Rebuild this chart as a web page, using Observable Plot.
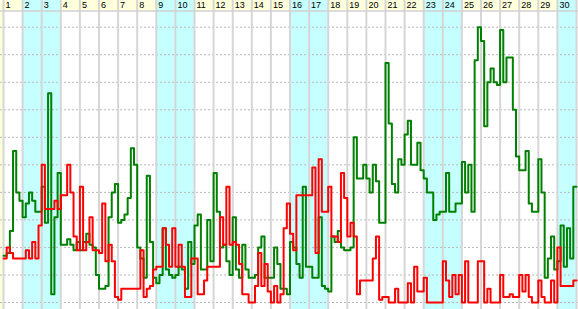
<!DOCTYPE html>
<html>
<head>
<meta charset="utf-8">
<script src="https://cdn.jsdelivr.net/npm/d3@7"></script>
<script src="https://cdn.jsdelivr.net/npm/@observablehq/plot@0.6"></script>
<style>
  html, body { margin: 0; padding: 0; background: #fff; overflow: hidden; }
  #chart svg { display: block; }
</style>
</head>
<body>
<div id="chart"></div>
<script>
// Days of the month shown in the header
const days = d3.range(1, 31);
const weekendDays = [2, 3, 9, 10, 16, 17, 23, 24, 30];
const stepsPerDay = 6;
const gridValues = [0, 10, 20, 30, 40, 50, 60, 70, 80, 90, 100];

// Green series (6 readings per day)
const greenValues = [
  17, 18, 26, 55, 40, 37,
  31, 36, 40, 37, 33, 33,
  42, 29, 76, 3, 31, 47,
  21, 21, 23, 21, 19, 22,
  19, 22, 25, 21, 20, 10,
  5, 5, 6, 31, 40, 43,
  29, 30, 32, 38, 56, 50,
  20, 16, 9, 46, 22, 9,
  7, 10, 27, 12, 10, 9,
  10, 13, 12, 5, 22, 14,
  28, 32, 12, 12, 30, 15,
  47, 33, 20, 21, 15, 10,
  31, 12, 9, 21, 12, 9,
  9, 10, 20, 24, 9, 9,
  9, 20, 14, 5, 5, 3,
  22, 20, 14, 9, 42, 13,
  13, 9, 9, 31, 6, 5,
  4, 24, 22, 26, 20, 19,
  19, 20, 60, 45, 45, 50,
  45, 40, 50, 44, 29, 29,
  87, 65, 43, 40, 52, 50,
  61, 66, 50, 50, 58, 48,
  45, 40, 40, 30, 32, 33,
  33, 47, 33, 33, 36, 36,
  51, 40, 50, 33, 88, 100,
  95, 64, 80, 85, 80, 79,
  99, 80, 89, 89, 70, 53,
  48, 48, 55, 36, 33, 33,
  52, 40, 9, 16, 24, 12,
  15, 28, 13, 27, 16, 42
];

// Red series (6 readings per day)
const redValues = [
  16, 20, 18, 16, 16, 16,
  16, 19, 16, 22, 16, 28,
  50, 34, 34, 34, 37, 34,
  39, 39, 50, 40, 24, 19,
  42, 19, 22, 31, 19, 19,
  18, 36, 15, 21, 15, 2,
  1, 5, 5, 5, 5, 5,
  5, 19, 2, 5, 6, 12,
  13, 13, 27, 21, 13, 27,
  13, 21, 13, 2, 2, 16,
  16, 3, 3, 8, 13, 13,
  13, 13, 31, 21, 42, 21,
  22, 21, 14, 3, 3, 0,
  0, 6, 18, 6, 14, 4,
  0, 6, 0, 3, 27, 36,
  25, 19, 39, 39, 39, 39,
  39, 49, 18, 52, 33, 33,
  42, 24, 24, 22, 47, 38,
  24, 29, 24, 3, 8, 8,
  8, 8, 16, 24, 1, 2,
  2, 0, 0, 5, 0, 0,
  0, 7, 0, 13, 4, 4,
  9, 0, 0, 0, 0, 0,
  15, 8, 2, 10, 3, 10,
  0, 15, 0, 0, 0, 15,
  15, 0, 5, 0, 0, 0,
  10, 2, 2, 3, 2, 2,
  10, 4, 10, 2, 0, 0,
  8, 2, 0, 0, 8, 0,
  20, 6, 6, 6, 6, 8
];

function toSeries(values) {
  const pts = values.map((v, i) => ({t: 1 + i / stepsPerDay, v}));
  pts.push({t: 1 + values.length / stepsPerDay, v: values[values.length - 1]});
  return pts;
}
const green = toSeries(greenValues);
const red = toSeries(redValues);

const W = 578, H = 309;
const xDomain = [1 - 3 / 19.1, 1 + 575 / 19.1];
const yDomain = [-(309 - 302) / 2.753, 302 / 2.753];
const headerBottom = (302 - 10.5) / 2.753;
const headerTop = yDomain[1];
const headerMid = (302 - 5) / 2.753;

const chart = Plot.plot({
  width: W,
  height: H,
  margin: 0,
  x: {domain: xDomain, axis: null},
  y: {domain: yDomain, axis: null},
  style: {background: "#ffffff", overflow: "hidden"},
  marks: [
    // header band
    Plot.rect(days, {x1: d => d, x2: d => d + 1, y1: headerBottom, y2: headerTop, fill: "#ffffdc"}),
    // left strip
    Plot.rect([0], {x1: xDomain[0], x2: 1, y1: yDomain[0], y2: yDomain[1], fill: "#ffffdc"}),
    // weekend columns
    Plot.rect(weekendDays, {x1: d => d, x2: d => d + 1, y1: yDomain[0], y2: yDomain[1], fill: "#c6ffff"}),
    // horizontal dotted grid
    Plot.ruleY(gridValues, {stroke: "#b8b8b8", strokeWidth: 1, strokeDasharray: "2,2"}),
    // vertical day dividers
    Plot.ruleX(d3.range(1, 32), {stroke: "#d6d6d6", strokeWidth: 2}),
    // header bottom border
    Plot.ruleY([headerBottom], {stroke: "#d0d0d0", strokeWidth: 1.5}),
    // header labels
    Plot.text(days, {x: d => d, y: headerMid, text: d => String(d), textAnchor: "start", dx: 2, dy: 0,
      fontSize: 9, fill: "#000", fontFamily: "Liberation Sans, Arial, sans-serif"}),
    // series
    Plot.line(green, {x: "t", y: "v", curve: "step-after", stroke: "#008000", strokeWidth: 2}),
    Plot.line(red, {x: "t", y: "v", curve: "step-after", stroke: "#ff0000", strokeWidth: 2})
  ]
});
document.getElementById("chart").appendChild(chart);
</script>
</body>
</html>
